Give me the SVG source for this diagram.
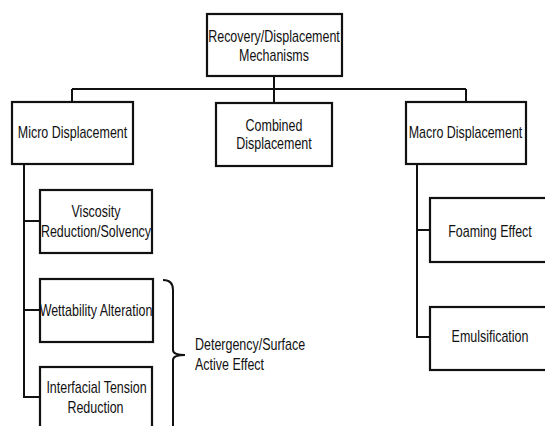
<svg xmlns="http://www.w3.org/2000/svg" width="545" height="426" viewBox="0 0 545 426">
<style>
.box{fill:#fff;stroke:#111;stroke-width:2.2}
.ln{fill:none;stroke:#111;stroke-width:2}
text{font-family:"Liberation Sans",Arial,sans-serif;font-size:16px;fill:#111;text-anchor:middle}
text.l{text-anchor:start}
</style>
<rect width="545" height="426" fill="#fff"/>
<g id="connectors">
<path class="ln" d="M274,76V89M72,89H466M72,89V102M274,89V103M466,89V102"/>
<path class="ln" d="M24,164V397H40M24,221H40M24,310H40"/>
<path class="ln" d="M417,164V337H430M417,230H430"/>
</g>
<g id="brace">
<path class="ln" d="M163,280Q173,280 173,290V350Q173,355 185,355M185,355Q173,355 173,360V430" stroke-width="1.6"/>
<text class="l" transform="translate(195,350) scale(0.78,1)">Detergency/Surface</text>
<text class="l" transform="translate(195,370) scale(0.78,1)">Active Effect</text>
</g>
<g id="root">
<rect class="box" x="207" y="14" width="135" height="62"/>
<text transform="translate(274,42) scale(0.78,1)">Recovery/Displacement</text>
<text transform="translate(274,61) scale(0.78,1)">Mechanisms</text>
</g>
<g id="micro">
<rect class="box" x="12" y="102" width="121" height="62"/>
<text transform="translate(72.5,138) scale(0.78,1)">Micro Displacement</text>
</g>
<g id="combined">
<rect class="box" x="216" y="103" width="116" height="63"/>
<text transform="translate(274,131) scale(0.78,1)">Combined</text>
<text transform="translate(274,149) scale(0.78,1)">Displacement</text>
</g>
<g id="macro">
<rect class="box" x="406" y="102" width="120" height="62"/>
<text transform="translate(465.5,138) scale(0.78,1)">Macro Displacement</text>
</g>
<g id="viscosity">
<rect class="box" x="40" y="190" width="112" height="63"/>
<text transform="translate(96,217) scale(0.78,1)">Viscosity</text>
<text transform="translate(96,237) scale(0.78,1)">Reduction/Solvency</text>
</g>
<g id="wettability">
<rect class="box" x="40" y="279" width="113" height="63"/>
<text transform="translate(96,316) scale(0.78,1)">Wettability Alteration</text>
</g>
<g id="interfacial">
<rect class="box" x="40" y="367" width="112" height="73"/>
<text transform="translate(96.5,393) scale(0.78,1)">Interfacial Tension</text>
<text transform="translate(95.5,413) scale(0.78,1)">Reduction</text>
</g>
<g id="foaming">
<rect class="box" x="430" y="198" width="117" height="64"/>
<text transform="translate(490,237) scale(0.78,1)">Foaming Effect</text>
</g>
<g id="emulsification">
<rect class="box" x="430" y="307" width="117" height="63"/>
<text transform="translate(490,342) scale(0.78,1)">Emulsification</text>
</g>
</svg>
